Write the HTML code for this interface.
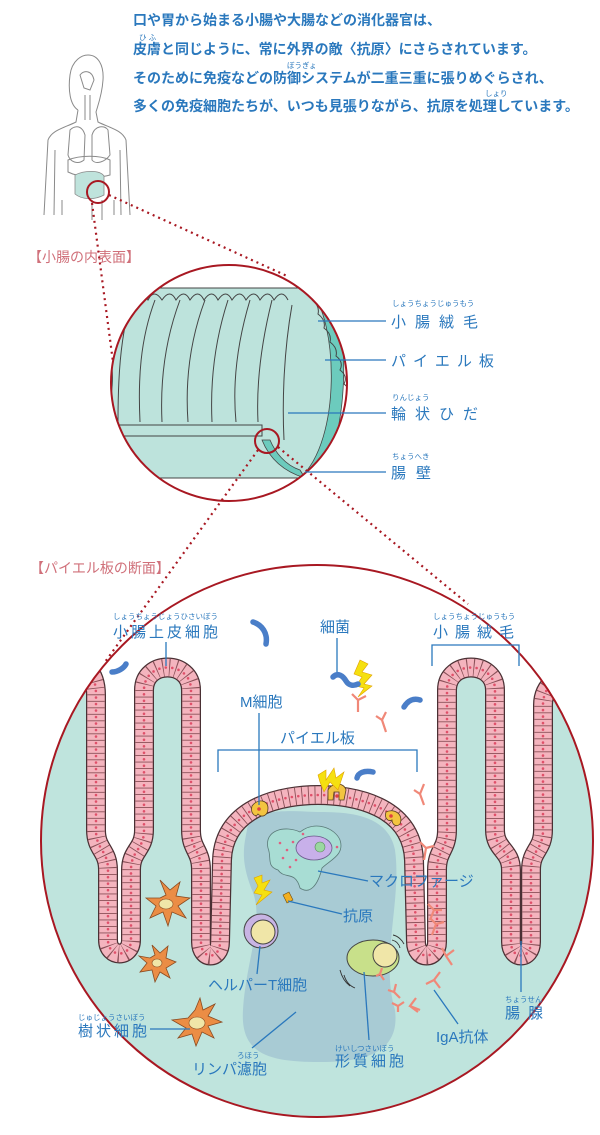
<!DOCTYPE html>
<html><head><meta charset="utf-8"><style>
html,body{margin:0;padding:0;background:#fff;}
svg{display:block}
text{font-family:"Liberation Sans","Noto Sans CJK JP",sans-serif;}
.b{fill:#2a78bd}
.t{font-size:14px;font-weight:bold;fill:#2a78bd}
.r{font-size:7.5px;fill:#2a78bd}
.lb{font-size:15px;fill:#2a78bd}
.ln{stroke:#2a78bd;stroke-width:1.3;fill:none}
.h{font-size:14px;fill:#d0707a}
</style></head><body>
<svg width="600" height="1135" viewBox="0 0 600 1135" xmlns="http://www.w3.org/2000/svg">
<defs>
<clipPath id="bc"><circle cx="317" cy="841" r="276"/></clipPath>
<clipPath id="mc"><circle cx="229" cy="383" r="118"/></clipPath>
<path id="ep" d="M60 655 C85 662 96 672 96 695 L96 830 C96 850 108 850 108 870 L108 940 C108 958 131 958 131 940 L131 870 C131 850 144 850 144 830 L144 690 C144 660 191 660 191 690 L191 830 C191 850 201 850 201 870 L201 942 C201 960 220 960 220 942 L222 860 C224 805 285 795 318 795 C352 795 412 805 414 860 L416 942 C416 960 437 960 437 942 L437 870 C437 850 447 850 447 830 L447 690 C447 660 495 660 495 690 L495 830 C495 850 511 850 511 870 L511 942 C511 960 531 960 531 942 L531 870 C531 850 543 850 543 830 L543 705 C543 685 560 672 585 668"/>
</defs>

<text class="t" x="133" y="25">口や胃から始まる小腸や大腸などの消化器官は、</text>
<text class="r" x="139" y="40">ひ ふ</text>
<text class="t" x="133" y="54">皮膚と同じように、常に外界の敵〈抗原〉にさらされています。</text>
<text class="r" x="287" y="68">ぼうぎょ</text>
<text class="t" x="133" y="83">そのために免疫などの防御システムが二重三重に張りめぐらされ、</text>
<text class="r" x="485" y="96">しょり</text>
<text class="t" x="133" y="111">多くの免疫細胞たちが、いつも見張りながら、抗原を処理しています。</text>

<g fill="none" stroke="#8a8a8a" stroke-width="1">
<path d="M78 110 C70 105 68 90 70 75 C72 60 82 55 88 55 C98 55 104 65 103 80 C102 95 98 105 96 112 L98 122 C110 128 122 130 126 140 L130 215 M78 110 L76 122 C64 128 52 130 48 140 L44 215"/>
<path d="M55 150 L54 215 M120 150 L121 215 M62 215 L62 200 M114 200 L114 215"/>
<path d="M80 75 C84 70 92 70 94 80 L90 90 L84 88 Z"/>
<path d="M85 95 L85 120 M90 95 L90 120"/>
<path d="M70 130 C75 125 82 125 85 135 L84 160 C78 165 70 162 68 155 Z M92 135 C95 125 105 125 108 130 L110 155 C105 162 96 165 92 160 Z"/>
<path d="M68 160 C80 155 100 155 110 160 L110 175 C100 178 80 178 68 172 Z"/>
<path d="M92 200 L92 220 M102 200 L102 220"/>
</g>
<path d="M75 175 C85 170 100 170 104 176 L104 195 C95 200 82 200 75 194 Z" fill="#bfe3dc" stroke="#8a8a8a" stroke-width="0.8"/>
<circle cx="98" cy="192" r="11" fill="none" stroke="#a81822" stroke-width="2"/>
<path d="M92 203 L113 362" stroke="#a81822" stroke-width="2.2" stroke-dasharray="2 4" fill="none"/>
<path d="M109 195 L287 276" stroke="#a81822" stroke-width="2.2" stroke-dasharray="2 4" fill="none"/>

<text class="h" x="28" y="262">【小腸の内表面】</text>

<circle cx="229" cy="383" r="118" fill="#fff"/>
<g clip-path="url(#mc)">
<path d="M100 288 L330 288 C345 320 345 440 320 478 L100 478 L100 420 C115 410 118 350 100 340 Z" fill="#bde3dc" stroke="#444" stroke-width="1"/>
<path d="M310 290 C338 320 342 440 300 478 L318 478 C350 440 350 320 330 290 Z" fill="#6ccbbd" stroke="#444" stroke-width="0.8"/>
<path d="M262 440 C270 460 285 472 305 478 L300 470 C285 465 275 452 270 440 Z" fill="#6ccbbd" stroke="#444" stroke-width="0.8"/>
<path d="M100 425 L262 425 L262 436 L100 436 Z" fill="#bde3dc" stroke="#444" stroke-width="1"/>
<g fill="none" stroke="#444" stroke-width="1">
<path d="M130 305 C120 340 118 380 118 422"/>
<path d="M155 300 C140 340 138 380 140 422"/>
<path d="M180 300 C165 340 160 380 162 422"/>
<path d="M205 300 C190 340 185 380 188 422"/>
<path d="M228 300 C215 340 210 380 212 422"/>
<path d="M250 300 C238 340 232 380 236 422"/>
<path d="M272 300 C262 340 256 380 258 422"/>
<path d="M292 305 C284 350 282 400 284 440"/>
<path d="M120 300 q8 -12 14 0 q8 -12 14 0 q6 -12 14 0 q8 -12 14 0 q8 -12 14 0 q8 -12 14 0 q8 -12 14 0 q8 -12 14 0 q8 -12 14 0 q8 -12 14 0 q8 -12 14 0 q8 -12 14 0"/>
<path d="M312 300 q8 6 6 14 q8 6 6 14 q8 6 6 14 q8 6 6 14 q8 6 4 14 q8 6 4 14 q8 6 2 14 q8 6 0 14 q6 6 -4 14 q6 6 -6 14 q4 6 -8 12"/>
</g>
</g>
<circle cx="229" cy="383" r="118" fill="none" stroke="#a81822" stroke-width="2"/>
<circle cx="267" cy="441" r="12" fill="none" stroke="#a81822" stroke-width="2"/>
<path d="M258 450 L105 662" stroke="#a81822" stroke-width="2.2" stroke-dasharray="2 4" fill="none"/>
<path d="M278 447 L468 604" stroke="#a81822" stroke-width="2.2" stroke-dasharray="2 4" fill="none"/>

<g>
<path class="ln" d="M318 321 L386 321 M325 360 L386 360 M288 413 L386 413 M305 472 L386 472"/>
<text class="r" x="392" y="306">しょうちょうじゅうもう</text>
<text class="lb" x="391" y="327" font-size="17" letter-spacing="9">小腸絨毛</text>
<text class="lb" x="391" y="366" font-size="17" letter-spacing="7">パイエル板</text>
<text class="r" x="392" y="400">りんじょう</text>
<text class="lb" x="391" y="419" font-size="17" letter-spacing="9">輪状ひだ</text>
<text class="r" x="392" y="459">ちょうへき</text>
<text class="lb" x="391" y="478" font-size="17" letter-spacing="10">腸壁</text>
</g>

<text class="h" x="30" y="573">【パイエル板の断面】</text>

<circle cx="317" cy="841" r="276" fill="#bfe4dd"/>
<g clip-path="url(#bc)">
<path d="M60 655 C85 662 96 672 96 695 L96 830 C96 850 108 850 108 870 L108 940 C108 958 131 958 131 940 L131 870 C131 850 144 850 144 830 L144 690 C144 660 191 660 191 690 L191 830 C191 850 201 850 201 870 L201 942 C201 960 220 960 220 942 L222 860 C224 805 285 795 318 795 C352 795 412 805 414 860 L416 942 C416 960 437 960 437 942 L437 870 C437 850 447 850 447 830 L447 690 C447 660 495 660 495 690 L495 830 C495 850 511 850 511 870 L511 942 C511 960 531 960 531 942 L531 870 C531 850 543 850 543 830 L543 705 C543 685 560 672 585 668 L600 668 L600 540 L40 540 L40 655 Z" fill="#fff"/>
<path d="M247 830 C250 805 300 812 320 812 C350 812 388 815 395 850 C402 900 380 960 395 1010 C400 1050 370 1062 320 1062 C270 1062 240 1055 243 1010 C246 960 265 920 252 890 C240 860 244 845 247 830 Z" fill="#a8cbd4"/>
<g fill="none">
<use href="#ep" stroke="#4a3034" stroke-width="20"/>
<use href="#ep" stroke="#f4b4be" stroke-width="17.5"/>
<use href="#ep" stroke="#8a5058" stroke-width="17.5" stroke-dasharray="0.9 5.6"/>
<use href="#ep" stroke="#e0506a" stroke-width="2.6" stroke-linecap="round" stroke-dasharray="0 6.5" stroke-dashoffset="-3.2"/>
</g>
</g>
<g fill="#f3c440" stroke="#5a4020" stroke-width="0.8">
<path d="M252 806 C258 798 268 800 268 808 C268 816 262 818 258 814 C256 818 250 814 252 806 Z"/>
<path d="M328 790 C332 782 344 782 346 790 L344 800 L339 800 L339 792 L334 792 L333 800 L328 800 Z"/>
<path d="M386 812 C394 808 404 814 400 824 C396 828 392 824 392 820 C388 822 384 818 386 812 Z"/>
</g>
<g fill="#e04040"><circle cx="259" cy="809" r="1.8"/><circle cx="337" cy="796" r="1.8"/><circle cx="391" cy="816" r="1.8"/></g>

<path d="M268 848 C264 830 285 825 300 832 C315 820 335 828 340 840 C345 855 330 860 322 868 C318 885 310 895 300 888 C295 870 285 880 278 870 C266 866 272 858 268 848 Z" fill="#a8ddd4" stroke="#5a7a78" stroke-width="0.8"/>
<ellipse cx="314" cy="848" rx="18" ry="12" fill="#c8b0ea" stroke="#6a5a8a" stroke-width="0.8"/>
<circle cx="320" cy="847" r="5" fill="#9ad8a0" stroke="#5a8a5a" stroke-width="0.6"/>
<g fill="#e06080"><circle cx="280" cy="843" r="1.3"/><circle cx="287" cy="850" r="1.3"/><circle cx="293" cy="842" r="1.3"/><circle cx="283" cy="858" r="1.3"/><circle cx="296" cy="860" r="1.3"/><circle cx="290" cy="867" r="1.3"/><circle cx="303" cy="834" r="1.3"/><circle cx="337" cy="847" r="1.3"/></g>
<path d="M283 895 L289 892 L293 900 L287 903 Z" fill="#f3b020" stroke="#6a4a10" stroke-width="0.6"/>
<circle cx="261" cy="931" r="17" fill="#c8b4e4" stroke="#444" stroke-width="1"/>
<circle cx="263" cy="932" r="12" fill="#f0e6a8" stroke="#444" stroke-width="1"/>
<ellipse cx="373" cy="958" rx="26" ry="18" fill="#c8e08a" stroke="#444" stroke-width="1"/>
<circle cx="385" cy="955" r="12" fill="#f0e6a8" stroke="#444" stroke-width="1"/>
<path d="M393 935 C398 936 402 940 404 944 M392 940 C396 941 399 944 400 948 M344 975 C346 982 350 986 355 988 M340 970 C342 978 346 983 350 986" stroke="#333" stroke-width="0.9" fill="none"/>

<g fill="#eb8d45" stroke="#8a4a20" stroke-width="0.8">
<path d="M166 895 L160 880 L170 890 L180 882 L176 896 L190 898 L178 906 L186 918 L172 912 L168 926 L163 912 L150 918 L156 906 L146 898 L160 898 Z"/>
<path d="M155 955 L152 945 L160 953 L168 946 L166 958 L176 962 L166 968 L170 978 L160 972 L155 982 L152 970 L140 972 L147 963 L139 956 L150 958 Z"/>
<path d="M195 1010 L200 998 L203 1010 L215 1004 L208 1016 L222 1022 L208 1026 L214 1038 L202 1032 L196 1046 L192 1034 L178 1038 L186 1028 L172 1020 L188 1018 Z"/>
</g>
<g fill="#f0e6a8" stroke="#8a4a20" stroke-width="0.6"><ellipse cx="166" cy="904" rx="7" ry="5"/><ellipse cx="157" cy="963" rx="5" ry="4"/><ellipse cx="197" cy="1023" rx="8" ry="6"/></g>

<g fill="#f5e010" stroke="#e0a000" stroke-width="0.6">
<path d="M360 660 L368 664 L362 672 L372 675 L364 684 L372 686 L358 697 L364 688 L356 686 L362 677 L354 674 Z"/>
<path d="M318 775 L326 770 L326 780 L334 768 L336 778 L344 772 L338 790 L330 782 L324 792 L320 782 Z"/>
<path d="M254 878 L262 875 L262 883 L270 880 L264 890 L272 892 L256 905 L262 895 L254 893 L258 886 Z"/>
</g>
<g fill="none" stroke="#4a7ec8" stroke-width="5.5" stroke-linecap="round">
<path d="M253 622 C262 625 268 633 266 644"/>
<path d="M112 672 C118 672 124 668 126 664"/>
<path d="M333 677 C338 672 343 676 346 681 C349 686 354 686 358 684"/>
<path d="M404 707 C408 700 414 698 420 700"/>
<path d="M357 778 C358 773 364 770 373 772"/>
</g>
<g fill="none" stroke="#f08878" stroke-width="2.2">
<path d="M358 712 L358 700 L352 694 M358 700 L366 696"/>
<path d="M386 732 L382 720 L376 716 M382 720 L386 712"/>
<path d="M424 805 L420 794 L414 790 M420 794 L424 784"/>
<path d="M424 860 L426 848 L420 842 M426 848 L434 846"/>
<path d="M430 920 L434 910 L428 904 M434 910 L442 910"/>
<path d="M432 935 L436 924 L430 918 M436 924 L444 922"/>
<path d="M452 965 L446 956 L442 948 M446 956 L454 950"/>
<path d="M426 984 L434 980 L440 972 M434 980 L440 988"/>
<path d="M420 1010 L410 1006 L416 998 M410 1006 L418 1012"/>
<path d="M400 998 L394 992 L388 990 M394 992 L396 984"/>
<path d="M384 980 L380 974 L376 976 M380 974 L382 968"/>
<path d="M392 1003 L398 1006 M398 1006 L404 1002 M398 1006 L398 1012"/>
</g>

<circle cx="317" cy="841" r="276" fill="none" stroke="#a81822" stroke-width="2"/>

<g>
<text class="r" x="113" y="619">しょうちょうじょうひさいぼう</text>
<text class="lb" x="113" y="637" letter-spacing="3">小腸上皮細胞</text>
<path class="ln" d="M166 642 L166 666"/>
<text class="lb" x="320" y="632">細菌</text>
<path class="ln" d="M337 638 L337 672"/>
<text class="r" x="433" y="619">しょうちょうじゅうもう</text>
<text class="lb" x="433" y="637" letter-spacing="7">小腸絨毛</text>
<path class="ln" d="M432 666 L432 645 L519 645 L519 666"/>
<text class="lb" x="240" y="707">M細胞</text>
<path class="ln" d="M259 713 L259 805"/>
<text class="lb" x="280" y="743">パイエル板</text>
<path class="ln" d="M218 772 L218 750 L417 750 L417 772"/>
<text class="lb" x="369" y="886">マクロファージ</text>
<path class="ln" d="M318 871 L368 881"/>
<text class="lb" x="343" y="921">抗原</text>
<path class="ln" d="M288 901 L342 914"/>
<text class="lb" x="208" y="990">ヘルパーT細胞</text>
<path class="ln" d="M260 946 L257 974"/>
<text class="r" x="335" y="1051">けいしつさいぼう</text>
<text class="lb" x="335" y="1066" letter-spacing="3">形質細胞</text>
<path class="ln" d="M364 972 L369 1040"/>
<text class="r" x="237" y="1058">ろほう</text>
<text class="lb" x="192" y="1074">リンパ濾胞</text>
<path class="ln" d="M296 1012 L252 1048"/>
<text class="r" x="78" y="1020">じゅじょうさいぼう</text>
<text class="lb" x="78" y="1036" letter-spacing="3">樹状細胞</text>
<path class="ln" d="M150 1029 L190 1029"/>
<text class="lb" x="436" y="1042">IgA抗体</text>
<path class="ln" d="M434 990 L458 1024"/>
<text class="r" x="505" y="1002">ちょうせん</text>
<text class="lb" x="505" y="1018" letter-spacing="8">腸腺</text>
<path class="ln" d="M521 941 L521 992"/>
</g>
</svg>
</body></html>
